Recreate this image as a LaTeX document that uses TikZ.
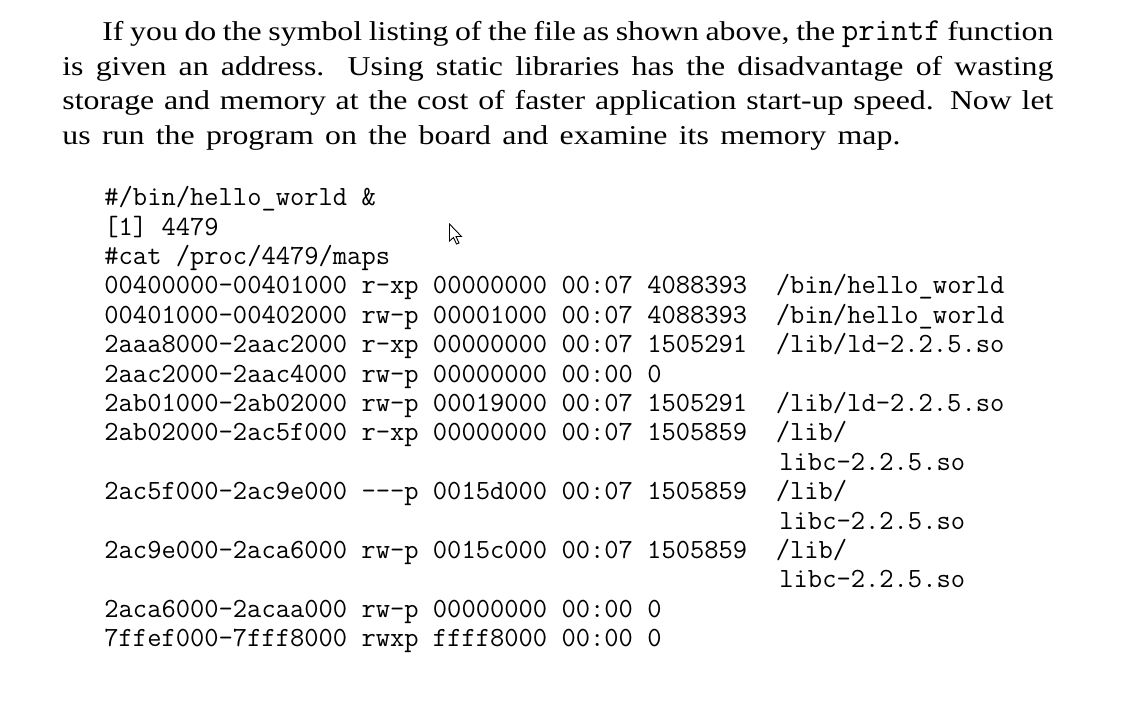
\documentclass[tikz,border=0pt]{standalone}
\usepackage{fontspec}
\setmainfont{Liberation Serif}[FakeStretch=1.17]
\setmonofont{Latin Modern Mono}
\usepackage{tikz}

\newcommand{\prosesize}{\fontsize{13.6pt}{17pt}\selectfont}
\newcommand{\codesize}{\fontsize{13.87pt}{15pt}\selectfont\ttfamily}
\newcommand{\fname}[1]{{\fontsize{16pt}{17pt}\selectfont\ttfamily #1}}

\tikzset{
  prose/.style={anchor=base west, inner sep=0pt, font=\prosesize},
  listing/.style={anchor=base west, inner sep=0pt, font=\codesize},
  pointer/.style={draw=black, fill=white, line width=0.45pt, line join=miter}
}

\begin{document}
\begin{tikzpicture}[x=0.5pt,y=-0.5pt]
  \useasboundingbox[fill=white] (0,0) rectangle (1138,712);
  % paragraph, one node per printed line
  \node[prose] (p1) at (102,40.5) {\makebox[475.5pt][s]{If you do the symbol listing of the file as shown above, the \fname{printf} function}};
  \node[prose] (p2) at (62,75) {\makebox[495.5pt][s]{is given an address. Using static libraries has the disadvantage of wasting}};
  \node[prose] (p3) at (62,109.5) {\makebox[495.5pt][s]{storage and memory at the cost of faster application start-up speed. Now let}};
  \node[prose] (p4) at (62,144) {\makebox[419pt][s]{us run the program on the board and examine its memory map.}};
  % shell session
  \node[listing] (m1) at (104,205.7) {\#/bin/hello\_world \&};
  \node[listing] (m2) at (104,235.1) {[1] 4479};
  \node[listing] (m3) at (104,264.5) {\#cat /proc/4479/maps};
  \node[listing] (m4) at (104,293.9) {00400000-00401000 r-xp 00000000 00:07 4088393 ~/bin/hello\_world};
  \node[listing] (m5) at (104,323.3) {00401000-00402000 rw-p 00001000 00:07 4088393 ~/bin/hello\_world};
  \node[listing] (m6) at (104,352.7) {2aaa8000-2aac2000 r-xp 00000000 00:07 1505291 ~/lib/ld-2.2.5.so};
  \node[listing] (m7) at (104,382.1) {2aac2000-2aac4000 rw-p 00000000 00:00 0};
  \node[listing] (m8) at (104,411.5) {2ab01000-2ab02000 rw-p 00019000 00:07 1505291 ~/lib/ld-2.2.5.so};
  \node[listing] (m9) at (104,440.9) {2ab02000-2ac5f000 r-xp 00000000 00:07 1505859 ~/lib/};
  \node[listing] (m10) at (779,470.3) {libc-2.2.5.so};
  \node[listing] (m11) at (104,499.7) {2ac5f000-2ac9e000 ---p 0015d000 00:07 1505859 ~/lib/};
  \node[listing] (m12) at (779,529.1) {libc-2.2.5.so};
  \node[listing] (m13) at (104,558.5) {2ac9e000-2aca6000 rw-p 0015c000 00:07 1505859 ~/lib/};
  \node[listing] (m14) at (779,587.9) {libc-2.2.5.so};
  \node[listing] (m15) at (104,617.3) {2aca6000-2acaa000 rw-p 00000000 00:00 0};
  \node[listing] (m16) at (104,646.7) {7ffef000-7fff8000 rwxp ffff8000 00:00 0};
  % mouse pointer
  \draw[pointer] (449.5,224) -- (449.5,241) -- (453.5,237.5) -- (456.5,244)
    -- (459,243) -- (456,236.5) -- (461.5,236.5) -- cycle;
\end{tikzpicture}
\end{document}
